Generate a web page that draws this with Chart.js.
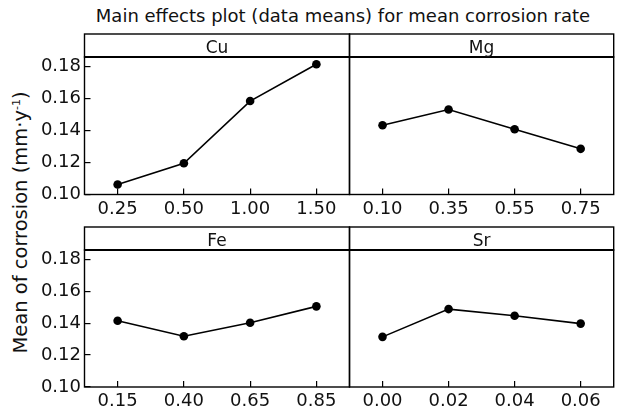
<!DOCTYPE html>
<html>
<head>
<meta charset="utf-8">
<script src="https://cdn.jsdelivr.net/npm/chart.js@4.4.1/dist/chart.umd.min.js"></script>
<style>
  html, body { margin: 0; padding: 0; background: #fff; }
  body { width: 618px; height: 417px; position: relative; overflow: hidden; }
  canvas { position: absolute; left: 0; top: 0; }
  .title { position: absolute; left: 343px; top: 6.5px; transform: translateX(-50%);
    white-space: nowrap; font: 18px "DejaVu Sans", sans-serif; line-height: 18px; color: #111; }
  .ylab { position: absolute; left: 0; top: 0; width: 300px; text-align: center;
    font: 19.5px "DejaVu Sans", sans-serif; line-height: 20px; color: #111; white-space: nowrap;
    transform-origin: 0 0; transform: translate(11px, 372.5px) rotate(-90deg); }
  .ylab sup { font-size: 11px; line-height: 0; vertical-align: 7px; }
</style>
</head>
<body>
<div class="title">Main effects plot (data means) for mean corrosion rate</div>
<div class="ylab">Mean of corrosion (mm·y<sup>-1</sup>)</div>
<canvas id="c1" width="618" height="417"></canvas>
<canvas id="c2" width="618" height="417"></canvas>
<canvas id="c3" width="618" height="417"></canvas>
<canvas id="c4" width="618" height="417"></canvas>
<script>
// ---- data ----
const factorNames = ['Cu', 'Mg', 'Fe', 'Sr'];
const levelsCu = ['0.25', '0.50', '1.00', '1.50'];
const levelsMg = ['0.10', '0.35', '0.55', '0.75'];
const levelsFe = ['0.15', '0.40', '0.65', '0.85'];
const levelsSr = ['0.00', '0.02', '0.04', '0.06'];
const meansCu = [0.1062, 0.1195, 0.1583, 0.1813];
const meansMg = [0.1432, 0.1530, 0.1407, 0.1285];
const meansFe = [0.1415, 0.1318, 0.1402, 0.1505];
const meansSr = [0.1314, 0.1488, 0.1446, 0.1397];
const yTickValues = [0.10, 0.12, 0.14, 0.16, 0.18];
const yMin = 0.10;
const yMax = 0.1858;

// ---- layout ----
const W = 618, H = 417;
const Y_AXIS_W = 50, X_AXIS_H = 20, STRIP_H = 23;
const FONT = '"DejaVu Sans", sans-serif';

const framePlugin = {
  id: 'frame',
  afterDraw(chart, args, opts) {
    const { ctx, chartArea: a } = chart;
    ctx.save();
    ctx.strokeStyle = '#000';
    ctx.lineWidth = 1.4;
    ctx.strokeRect(a.left, a.top - STRIP_H, a.right - a.left, STRIP_H);
    ctx.strokeRect(a.left, a.top, a.right - a.left, a.bottom - a.top);
    ctx.lineWidth = 1.8;
    ctx.beginPath();
    ctx.moveTo(a.left, a.top);
    ctx.lineTo(a.right, a.top);
    ctx.stroke();
    ctx.fillStyle = '#111';
    ctx.font = '17px ' + FONT;
    ctx.textAlign = 'center';
    ctx.textBaseline = 'alphabetic';
    ctx.fillText(opts.label, (a.left + a.right) / 2, a.top - 3.8);
    ctx.restore();
  }
};

function makePanel(id, name, labels, values, box, showY) {
  const ctx = document.getElementById(id);
  return new Chart(ctx, {
    type: 'line',
    data: {
      labels: labels,
      datasets: [{
        data: values,
        borderColor: '#000',
        backgroundColor: '#000',
        borderWidth: 1.6,
        pointRadius: 4.3,
        pointBorderWidth: 0,
        pointBackgroundColor: '#000',
        tension: 0,
        clip: false
      }]
    },
    options: {
      responsive: false,
      animation: false,
      events: [],
      layout: {
        padding: {
          left: showY ? box.left - Y_AXIS_W : box.left,
          right: W - box.right,
          top: box.top,
          bottom: H - box.bottom - X_AXIS_H
        }
      },
      plugins: {
        legend: { display: false },
        tooltip: { enabled: false },
        title: { display: false },
        frame: { label: name }
      },
      scales: {
        x: {
          type: 'category',
          offset: true,
          border: { display: false },
          grid: { display: true, drawOnChartArea: false, drawTicks: true, tickLength: -6, color: '#000', lineWidth: 1.2 },
          ticks: { color: '#111', font: { family: FONT, size: 18 }, padding: 9.8, maxRotation: 0, autoSkip: false },
          afterFit(s) { s.height = X_AXIS_H; }
        },
        y: {
          display: showY,
          min: yMin,
          max: yMax,
          border: { display: false },
          grid: { display: true, drawOnChartArea: false, drawTicks: true, tickLength: -6, color: '#000', lineWidth: 1.2 },
          ticks: { color: '#111', font: { family: FONT, size: 18 }, padding: 9.5,
            callback: (v) => Number(v).toFixed(2) },
          afterBuildTicks(s) { s.ticks = yTickValues.map(v => ({ value: v })); },
          afterFit(s) { s.width = showY ? Y_AXIS_W : 0; }
        }
      }
    },
    plugins: [framePlugin]
  });
}

const boxTL = { left: 84.5, right: 349.5, top: 57, bottom: 194.5 };
const boxTR = { left: 349.5, right: 614.5, top: 57, bottom: 194.5 };
const boxBL = { left: 84.5, right: 349.5, top: 250, bottom: 387 };
const boxBR = { left: 349.5, right: 614.5, top: 250, bottom: 387 };

makePanel('c1', factorNames[0], levelsCu, meansCu, boxTL, true);
makePanel('c2', factorNames[1], levelsMg, meansMg, boxTR, false);
makePanel('c3', factorNames[2], levelsFe, meansFe, boxBL, true);
makePanel('c4', factorNames[3], levelsSr, meansSr, boxBR, false);
</script>
</body>
</html>
